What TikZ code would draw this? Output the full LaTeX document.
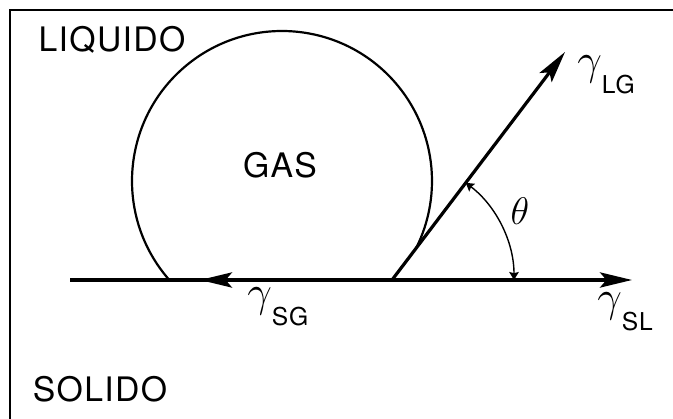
\documentclass[tikz,border=0pt]{standalone}
\usepackage{fontspec}
\setmainfont{TeX Gyre Heros}[LetterSpace=4]
\usepackage{graphicx}
\usepackage{tikz}
\usetikzlibrary{arrows.meta}

% surface tension symbol with a dropped subscript
\newcommand{\tension}[1]{%
  \scalebox{1.25}{$\gamma$}\raisebox{-13pt}{\fontsize{17.5}{20}\selectfont #1}}

\begin{document}
\begin{tikzpicture}[
  x=0.25mm, y=0.25mm,
  %%── Styles ───────────────────────────────────────────────────────────────
  frameline/.style={draw=black, line width=0.5mm},
  surface/.style={draw=black, line width=0.8mm},
  bubble/.style={draw=black, line width=0.55mm},
  vec/.style={
    draw=black, line width=0.8mm,
    -{Stealth[length=8mm, width=3.8mm, inset=1.6mm]}
  },
  anglearc/.style={
    draw=black, line width=0.35mm,
    {Stealth[length=2mm, width=2.4mm, inset=0.3mm]}-{Stealth[length=2mm, width=2.4mm, inset=0.3mm]}
  },
  phase/.style={font=\fontsize{24}{28}\selectfont, inner sep=0pt},
  force/.style={font=\fontsize{24}{28}\selectfont, anchor=base west, inner sep=0pt},
]

\useasboundingbox (0,0) rectangle (673,419);

%%── Frame (top and left edges only) ─────────────────────────────────────
\draw[frameline] (10,0) -- (10,409) -- (673,409);

%%── Contact point and vector ends (y: 139 = solid surface) ──────────────
\coordinate (surfL)   at ( 70,139);
\coordinate (contact) at (392,139);
\coordinate (tipSL)   at (632,139);
\coordinate (tipSG)   at (200,139);
\coordinate (tipLG)   at (565,367);   % 52.8 deg from contact
\coordinate (bubC)    at (282,238);   % bubble centre, r = 150

%%── Gas bubble (ends on the liquid-gas line) ────────────────────────────
\draw[bubble] ([shift={(221.3:150)}]bubC)
    arc[start angle=221.3, end angle=-26.7, radius=150];

%%── Solid surface and tension vectors ───────────────────────────────────
\draw[surface] (surfL) -- (contact);
\draw[vec] (contact) -- (tipSL);
\draw[vec] (contact) -- (tipSG);
\draw[vec] (contact) -- (tipLG);

%%── Contact angle ───────────────────────────────────────────────────────
\draw[anglearc] ([shift={(52.8:122)}]contact)
    arc[start angle=52.8, end angle=0, radius=122];
\node[phase] (theta) at (520,208) {\scalebox{1.1}{$\theta$}};

%%── Labels ──────────────────────────────────────────────────────────────
\node[phase] (liquido) at (112,379) {LIQUIDO};
\node[phase] (solido)  at (100, 30) {SOLIDO};
\node[phase] (gas)     at (280,254) {GAS};

\node[force] (gammaLG) at (577,344) {\tension{LG}};
\node[force] (gammaSL) at (597,107) {\tension{SL}};
\node[force] (gammaSG) at (247,112) {\tension{SG}};

\end{tikzpicture}
\end{document}
